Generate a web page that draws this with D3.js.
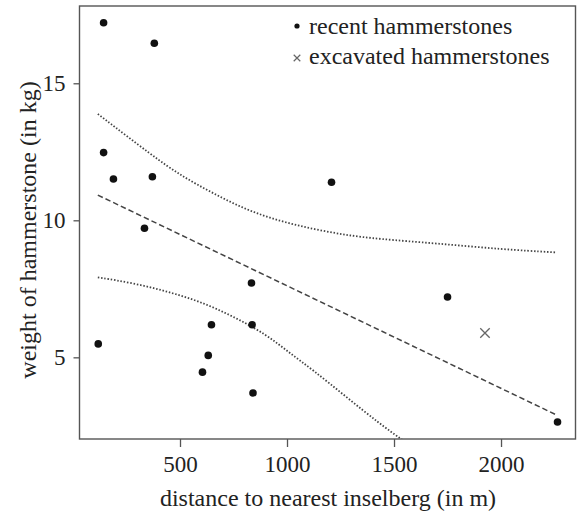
<!DOCTYPE html>
<html>
<head>
<meta charset="utf-8">
<script src="https://cdn.jsdelivr.net/npm/d3@7"></script>
<style>
    body { margin: 0; background: #fff; }
    #chart-area { width: 577px; height: 517px; }
    text { font-family: "Liberation Serif", "Times New Roman", serif; fill: #222; }
</style>
</head>
<body>
<div id="chart-area"></div>
<script>

// recent hammerstones
let distance = [143, 380, 143, 189, 371, 334, 118, 647, 632, 605, 841, 834, 837, 1208, 1750, 2264];
let weight = [17.21, 16.46, 12.47, 11.51, 11.59, 9.71, 5.49, 6.19, 5.07, 4.46, 3.70, 7.71, 6.19, 11.39, 7.20, 2.64];

// excavated hammerstones
let excDistance = [1925];
let excWeight = [5.89];

// regression line and band
let fitX = [116, 2256];
let fitY = [10.92, 2.91];
let upperX = [116, 376, 500, 655, 810, 966, 1121, 1276, 1424, 1695, 2006, 2254];
let upperY = [13.88, 12.33, 11.65, 10.98, 10.38, 9.97, 9.68, 9.46, 9.32, 9.16, 8.94, 8.83];
let lowerX = [116, 282, 438, 594, 748, 904, 1012, 1121, 1276, 1431, 1540];
let lowerY = [7.92, 7.71, 7.41, 7.04, 6.50, 5.83, 5.16, 4.54, 3.56, 2.59, 1.98];

let xTicks = [500, 1000, 1500, 2000];
let yTicks = [5, 10, 15];

let legendLabels = ["recent hammerstones", "excavated hammerstones"];

let margin = {top: 6, right: 1.5, bottom: 78, left: 79.5};
let width = 577 - margin.left - margin.right;
let height = 517 - margin.top - margin.bottom;

let svg = d3.select("#chart-area").append("svg")
    .attr("width", 577)
    .attr("height", 517)
    .append("g")
    .attr("transform", "translate(" + margin.left + "," + margin.top + ")");

let x = d3.scaleLinear()
    .domain([30.4, 2348])
    .range([0, width]);

let y = d3.scaleLinear()
    .domain([2.02, 17.82])
    .range([height, 0]);

svg.append("clipPath")
    .attr("id", "plot-clip")
    .append("rect")
    .attr("width", width)
    .attr("height", height);

// Axes
let xAxis = d3.axisBottom(x).tickValues(xTicks).tickSize(8).tickPadding(9).tickFormat(d3.format("d"));
let yAxis = d3.axisLeft(y).tickValues(yTicks).tickSize(6).tickPadding(8).tickFormat(d3.format("d"));

svg.append("g")
    .attr("class", "x-axis")
    .attr("transform", `translate(0, ${height})`)
    .call(xAxis);

svg.append("g")
    .attr("class", "y-axis")
    .call(yAxis);

// d3 puts sans-serif on the axis groups, drop it so the serif rule applies
svg.selectAll(".x-axis, .y-axis").attr("font-family", null).attr("font-size", null);
svg.selectAll(".x-axis path, .y-axis path").remove();
svg.selectAll(".x-axis line, .y-axis line").attr("stroke", "#555").attr("stroke-width", 1.3);
svg.selectAll(".x-axis text, .y-axis text")
    .style("font-size", "23px")
    .style("font-family", "'Liberation Serif', serif")
    .attr("fill", "#222");

// Frame
svg.append("rect")
    .attr("width", width)
    .attr("height", height)
    .attr("fill", "none")
    .attr("stroke", "#555")
    .attr("stroke-width", 1.4);

// Lines
let lineGen = d3.line()
    .x(d => x(d[0]))
    .y(d => y(d[1]))
    .curve(d3.curveBasis);

let lines = svg.append("g").attr("clip-path", "url(#plot-clip)");

lines.append("path")
    .datum(fitX.map((d, i) => [d, fitY[i]]))
    .attr("d", lineGen)
    .attr("fill", "none")
    .attr("stroke", "#444")
    .attr("stroke-width", 1.5)
    .attr("stroke-dasharray", "5.5,3");

[[upperX, upperY], [lowerX, lowerY]].forEach(band => {
    lines.append("path")
        .datum(band[0].map((d, i) => [d, band[1][i]]))
        .attr("d", lineGen)
        .attr("fill", "none")
        .attr("stroke", "#444")
        .attr("stroke-width", 1.8)
        .attr("stroke-dasharray", "1.5,1.8");
});

// Points
svg.selectAll(".recent-dot")
    .data(distance.map((d, i) => [d, weight[i]]))
    .enter().append("circle")
    .attr("class", "recent-dot")
    .attr("cx", d => x(d[0]))
    .attr("cy", d => y(d[1]))
    .attr("r", 3.8)
    .attr("fill", "#111");

let cross = d3.symbol().type(d3.symbolX).size(60);

svg.selectAll(".excavated-dot")
    .data(excDistance.map((d, i) => [d, excWeight[i]]))
    .enter().append("path")
    .attr("class", "excavated-dot")
    .attr("d", cross)
    .attr("transform", d => `translate(${x(d[0])},${y(d[1])})`)
    .attr("fill", "none")
    .attr("stroke", "#666")
    .attr("stroke-width", 1.3);

// Legend
let legend = svg.append("g").attr("transform", "translate(217.5, 0)");

legend.append("circle")
    .attr("cx", 0)
    .attr("cy", 20)
    .attr("r", 2.6)
    .attr("fill", "#111");

legend.append("path")
    .attr("d", d3.symbol().type(d3.symbolX).size(30))
    .attr("transform", "translate(0, 52)")
    .attr("fill", "none")
    .attr("stroke", "#666")
    .attr("stroke-width", 1.2);

legend.selectAll(".legend-label")
    .data(legendLabels)
    .enter().append("text")
    .attr("class", "legend-label")
    .attr("x", 12)
    .attr("y", (d, i) => 28 + i * 30)
    .style("font-size", "24px")
    .text(d => d);

// Axis titles
svg.append("text")
    .attr("x", width / 2 + 0.5)
    .attr("y", height + 67)
    .attr("text-anchor", "middle")
    .style("font-size", "24px")
    .text("distance to nearest inselberg (in m)");

svg.append("text")
    .attr("transform", `translate(${36 - margin.left}, ${230 - margin.top}) rotate(-90)`)
    .attr("text-anchor", "middle")
    .style("font-size", "24px")
    .text("weight of hammerstone (in kg)");

</script>
</body>
</html>
